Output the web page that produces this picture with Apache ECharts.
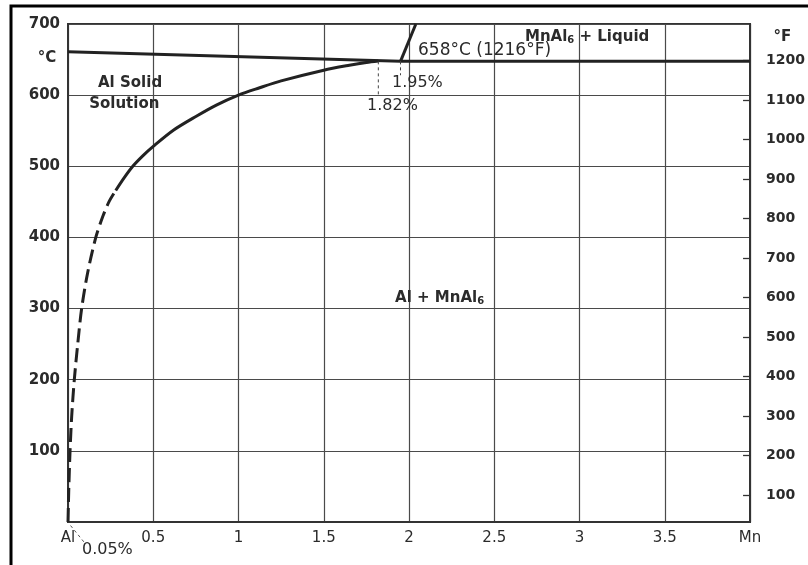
<!DOCTYPE html>
<html>
<head>
<meta charset="utf-8">
<script src="https://cdn.jsdelivr.net/npm/echarts@6/dist/echarts.min.js"></script>
<style>
html,body{margin:0;padding:0;background:#fff;}
#chart{width:808px;height:565px;}
</style>
</head>
<body>
<div id="chart"></div>
<script>
// ---- data (Mn wt% , temperature °C) ----
const mnTickLabels = {0: 'Al', 4: 'Mn'};
const fahrenheitTicks = [100, 200, 300, 400, 500, 600, 700, 800, 900, 1000, 1100, 1200];
const solvusDashed = [[0.0, 0], [0.005, 50], [0.012, 100], [0.022, 150], [0.037, 200], [0.057, 250], [0.08, 300], [0.115, 350], [0.163, 400], [0.205, 430], [0.24, 450], [0.28, 466]];
const solvusSolid = [[0.28, 466], [0.33, 484], [0.38, 500], [0.44, 515], [0.5, 528], [0.62, 551], [0.75, 570], [0.87, 586], [1.0, 600], [1.12, 610], [1.25, 620], [1.5, 635], [1.65, 642], [1.75, 646], [1.82, 648]];
const liquidusAl = [[0, 661], [1.95, 647.5]];
const isotherm = [[1.95, 647.5], [4, 647.5]];
const liquidusMnAl6 = [[1.95, 647.5], [2.04, 700]];
const marker182 = [[1.82, 647.5], [1.82, 598]];
const marker195 = [[1.95, 647.5], [1.95, 628]];
const leader005 = [[0.015, -5], [0.1, -30]];
const annotations = [
  {text: 'Al Solid', at: [0.364, 617], kind: 'bold', align: 'center'},
  {text: 'Solution', at: [0.33, 588], kind: 'bold', align: 'center'},
  {text: '658°C (1216°F)', at: [2.053, 663], kind: 'plainL', align: 'left'},
  {text: 'MnAl{s|6} + Liquid', at: [2.68, 682], kind: 'bold', align: 'left'},
  {text: '1.95%', at: [1.90, 617], kind: 'plain', align: 'left'},
  {text: '1.82%', at: [1.754, 585], kind: 'plain', align: 'left'},
  {text: 'Al + MnAl{s|6}', at: [1.918, 315], kind: 'bold', align: 'left'},
  {text: '0.05%', at: [0.082, -39], kind: 'plain', align: 'left'},
  {text: '°C', at: [-0.123, 652], kind: 'bold', align: 'center'},
  {text: '°F', at: [4.19, 681], kind: 'bold', align: 'center'}
];

const INK = '#222';
const TXT = '#2b2b2b';
const styles = {
  bold: {fontFamily: 'DejaVu Sans', fontWeight: 'bold', fontSize: 15, color: TXT},
  plain: {fontFamily: 'DejaVu Sans', fontSize: 16, color: TXT},
  plainL: {fontFamily: 'DejaVu Sans', fontSize: 17, color: TXT}
};

const chart = echarts.init(document.getElementById('chart'), null, {renderer: 'canvas'});

function lineSeries(data, width, type, color) {
  return {
    type: 'line', data: data, showSymbol: false, symbol: 'none', clip: false,
    lineStyle: {color: color || INK, width: width, type: type || 'solid', cap: 'butt'},
    silent: true, z: 5
  };
}

const option = {
  backgroundColor: '#fff',
  animation: false,
  graphic: [
    {type: 'rect', shape: {x: 11, y: 6, width: 820, height: 600}, style: {fill: 'none', stroke: '#000', lineWidth: 3}, silent: true}
  ],
  grid: {left: 68, top: 24, width: 684, height: 498, show: true, borderColor: '#333', borderWidth: 2, backgroundColor: 'transparent'},
  xAxis: {
    type: 'value', min: 0, max: 4, interval: 0.5,
    axisLine: {show: true, lineStyle: {color: '#333', width: 2}},
    axisTick: {show: false},
    splitLine: {show: true, lineStyle: {color: '#4a4a4a', width: 1.2}},
    axisLabel: {
      margin: 9, fontFamily: 'DejaVu Sans', fontSize: 15, color: TXT,
      formatter: v => (mnTickLabels[v] !== undefined ? mnTickLabels[v] : String(v))
    }
  },
  yAxis: [
    {
      type: 'value', min: 0, max: 700, interval: 100, position: 'left',
      axisLine: {show: true, lineStyle: {color: '#333', width: 2}},
      axisTick: {show: false},
      splitLine: {show: true, lineStyle: {color: '#4a4a4a', width: 1.2}},
      axisLabel: {
        margin: 8, fontFamily: 'DejaVu Sans', fontWeight: 'bold', fontSize: 15, color: TXT,
        formatter: v => (v === 0 ? '' : String(v))
      }
    },
    {
      type: 'value', min: 32, max: 1292, position: 'right',
      axisLine: {show: true, lineStyle: {color: '#333', width: 2}},
      axisTick: {show: true, inside: true, length: 7, lineStyle: {color: '#333', width: 1.3}, customValues: fahrenheitTicks},
      splitLine: {show: false},
      axisLabel: {
        margin: 16, fontFamily: 'DejaVu Sans', fontWeight: 'bold', fontSize: 14, color: TXT,
        customValues: fahrenheitTicks,
        formatter: v => String(Math.round(v))
      }
    }
  ],
  series: [
    Object.assign(lineSeries(solvusDashed, 3, [14, 6]), {smooth: 0.3}),
    Object.assign(lineSeries(solvusSolid, 3), {smooth: 0.3}),
    lineSeries(liquidusAl, 3),
    lineSeries(isotherm, 3),
    lineSeries(liquidusMnAl6, 3),
    lineSeries(marker182, 1, [3, 3], '#444'),
    lineSeries(marker195, 1, [3, 3], '#444'),
    lineSeries(leader005, 1, [3, 3], '#555'),
    {
      type: 'scatter', symbolSize: 0, clip: false, silent: true, z: 10,
      itemStyle: {opacity: 1},
      data: annotations.map(a => ({
        value: a.at,
        label: Object.assign({
          show: true, position: [0, 0], formatter: a.text,
          align: a.align, verticalAlign: 'middle', lineHeight: 18, opacity: 1,
          rich: {s: {fontSize: 10, fontFamily: 'DejaVu Sans', fontWeight: 'bold', color: TXT, lineHeight: 18, verticalAlign: 'bottom'}}
        }, styles[a.kind])
      }))
    }
  ]
};
chart.setOption(option);
</script>
</body>
</html>
